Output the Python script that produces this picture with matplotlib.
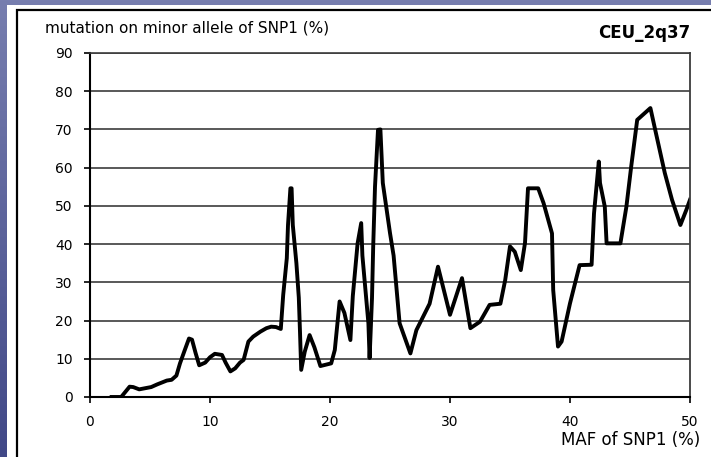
import numpy as np
import matplotlib
matplotlib.use("Agg")
import matplotlib.pyplot as plt
from matplotlib.patches import Rectangle
from matplotlib.colors import LinearSegmentedColormap

# MAF of SNP1 (%) and mutation on minor allele (%)
maf = [1.8, 2.6, 3.3, 3.6, 4.1, 4.6, 5.1, 5.6, 6.0, 6.4, 6.8, 7.2, 7.5, 7.9, 8.25, 8.5,
       8.8, 9.1, 9.6, 10.0, 10.4, 11.0, 11.3, 11.7, 12.1, 12.5, 12.8, 13.2, 13.6, 14.2,
       14.7, 15.1, 15.5, 15.9, 16.1, 16.4, 16.5, 16.7, 16.8, 16.9, 17.2, 17.4, 17.5, 17.6,
       17.9, 18.3, 18.7, 19.2, 20.1, 20.4, 20.8, 21.2, 21.7, 21.9, 22.3, 22.6, 22.7, 23.2,
       23.3, 23.5, 23.6, 23.75, 24.0, 24.2, 24.3, 24.4, 25.0, 25.3, 25.8, 26.7, 27.2, 28.3,
       29.0, 30.0, 31.0, 31.7, 32.5, 33.3, 34.2, 34.6, 35.0, 35.4, 35.9, 36.25, 36.5, 37.35,
       37.8, 38.5, 38.6, 39.0, 39.3, 40.0, 40.8, 41.8, 42.0, 42.4, 42.5, 42.9, 43.05, 44.2,
       44.7, 45.1, 45.6, 46.7, 47.1, 47.9, 48.5, 49.2, 49.7, 50.0]
mutation = [0, 0, 2.7, 2.6, 2.0, 2.3, 2.6, 3.3, 3.8, 4.3, 4.5, 5.6, 8.8, 12.3, 15.3, 15.0,
            11.5, 8.3, 9.0, 10.4, 11.3, 11.0, 9.0, 6.7, 7.5, 9.0, 9.7, 14.5, 15.8, 17.1,
            18.0, 18.4, 18.3, 17.8, 26.7, 36.3, 45, 54.6, 54.6, 45, 35, 26, 17, 7.1,
            11.9, 16.2, 13, 8.1, 8.8, 12.3, 25, 22, 14.9, 26.4, 40.2, 45.5, 37, 19.3,
            10.2, 25.9, 39.4, 55, 69.9, 70, 63, 56, 42.9, 37, 19.3, 11.4, 17.5, 24.4,
            34.1, 21.5, 31.1, 18, 19.7, 24.1, 24.4, 30.6, 39.4, 38, 33.2, 40.3, 54.6, 54.6,
            50.7, 42.8, 28, 13.2, 14.5, 24.5, 34.5, 34.6, 48, 61.6, 56, 49.8, 40.2, 40.2,
            49.8, 60.3, 72.5, 75.6, 69.9, 58.6, 51.6, 45, 49, 51.6]

x_ticks = [0, 10, 20, 30, 40, 50]
y_ticks = [0, 10, 20, 30, 40, 50, 60, 70, 80, 90]

W, H = 711, 457
fig = plt.figure(figsize=(W / 100, H / 100), dpi=100)
plt.rcParams["font.family"] = ["DejaVu Sans"]

# blue slide background
bg = fig.add_axes([0, 0, 1, 1], zorder=-10)
bg.axis("off")
cmap = LinearSegmentedColormap.from_list("slide", ["#777eaf", "#414887"])
bg.imshow(np.linspace(0, 1, 256).reshape(-1, 1), aspect="auto", cmap=cmap,
          extent=[0, 1, 0, 1])
bg.set_xlim(0, 1)
bg.set_ylim(0, 1)

# white panel with black frame (top and left edges visible)
fig.add_artist(Rectangle((7 / W, 0), 1, 1 - 5 / H, transform=fig.transFigure,
                         facecolor="white", edgecolor="none", zorder=-5))
fig.add_artist(Rectangle((17 / W, -0.1), 1, 1.1 - 10 / H, transform=fig.transFigure,
                         facecolor="none", edgecolor="black", linewidth=1.6, zorder=-4))

ax = fig.add_axes([90 / W, 60 / H, (690 - 90) / W, (397 - 53) / H])
ax.set_facecolor("white")
ax.plot(maf, mutation, color="black", linewidth=2.8)

ax.set_xlim(0, 50)
ax.set_ylim(0, 90)
ax.set_xticks(x_ticks)
ax.set_yticks(y_ticks)
ax.yaxis.grid(True, color="#3c3c3c", linewidth=1.2)
ax.set_axisbelow(True)
ax.tick_params(axis="y", direction="out", length=4.5, width=1.2, pad=8, labelsize=10)
ax.tick_params(axis="x", direction="out", length=4, width=1.2, pad=9, labelsize=10)
for s in ["left", "bottom"]:
    ax.spines[s].set_linewidth(1.5)
    ax.spines[s].set_color("black")
ax.spines["right"].set_color("#3c3c3c")
ax.spines["right"].set_linewidth(1.3)
ax.spines["top"].set_color("#3c3c3c")
ax.spines["top"].set_linewidth(1.2)

fig.text(45 / W, 1 - 28 / H, "mutation on minor allele of SNP1 (%)",
         ha="left", va="center", fontsize=11)
fig.text(690 / W, 1 - 33 / H, "CEU_2q37", ha="right", va="center",
         fontsize=12, fontweight="bold")
fig.text(700 / W, 1 - 440 / H, "MAF of SNP1 (%)", ha="right", va="center",
         fontsize=12)

fig.savefig("out.png", dpi=100)
